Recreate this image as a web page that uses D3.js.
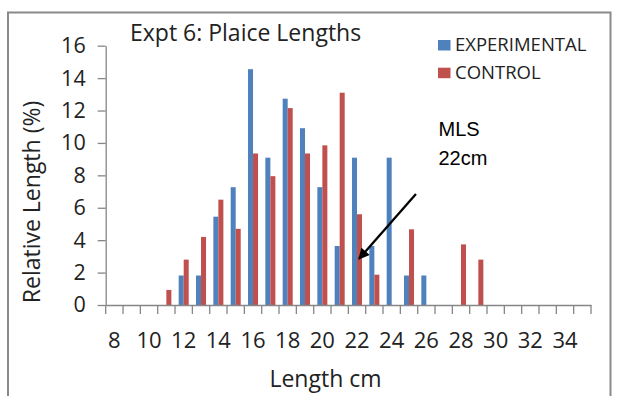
<!DOCTYPE html>
<html>
<head>
<meta charset="utf-8">
<script src="https://cdn.jsdelivr.net/npm/d3@7"></script>
<style>
  html, body { margin: 0; padding: 0; background: #fff; }
  svg { display: block; }
</style>
</head>
<body>
<svg id="chart" width="622" height="396"></svg>
<script>
// Length classes (cm) on the category axis
const lengths = d3.range(8, 36);
// Percentage of fish in each length class
const experimental = [0,0,0,0,1.82,1.82,5.45,7.27,14.55,9.09,12.73,10.91,7.27,3.64,9.09,3.64,9.09,1.82,1.82,0,0,0,0,0,0,0,0,0];
const control      = [0,0,0,0.93,2.8,4.2,6.5,4.7,9.35,7.95,12.15,9.35,9.85,13.1,5.6,1.87,0,4.67,0,0,3.74,2.8,0,0,0,0,0,0];
const seriesNames = ["EXPERIMENTAL", "CONTROL"];
const seriesColors = ["#4F81BD", "#C0504D"];
const yTicks = [0, 2, 4, 6, 8, 10, 12, 14, 16];
const xLabels = d3.range(8, 35, 2);
// Minimum landing size annotation
const mls = { label: ["MLS", "22cm"], size: 22, pct: 2.85, fromLen: 25.4, fromPct: 6.85, textLen: 26.7, textPct: 10.4 };

const svg = d3.select("#chart");
const plotL = 105.7, plotR = 591, plotT = 45.7, plotB = 305;
const mainFont = "'Open Sans', sans-serif";

// outer frame
svg.append("rect")
  .attr("x", 8).attr("y", 12.5).attr("width", 602.5).attr("height", 400)
  .attr("fill", "none").attr("stroke", "#8a8a8a").attr("stroke-width", 2);

const x = d3.scaleBand().domain(lengths).range([plotL, plotR]).paddingInner(0).paddingOuter(0);
const x1 = d3.scaleBand().domain(seriesNames).range([0, x.bandwidth()]).paddingInner(0).paddingOuter(0.73);
const xl = d3.scaleLinear().domain([7.5, 35.5]).range([plotL, plotR]);
const y = d3.scaleLinear().domain([0, 16]).range([plotB, plotT]);

// bars
const rows = lengths.map((len, i) => ({ len, values: [experimental[i], control[i]] }));
const groups = svg.append("g").selectAll("g").data(rows).join("g")
  .attr("transform", d => `translate(${x(d.len)},0)`);
groups.selectAll("rect")
  .data(d => d.values.map((v, k) => ({ v, k })).filter(e => e.v > 0))
  .join("rect")
  .attr("x", e => x1(seriesNames[e.k]))
  .attr("width", x1.bandwidth())
  .attr("y", e => y(e.v))
  .attr("height", e => y(0) - y(e.v))
  .attr("fill", e => seriesColors[e.k]);

// y axis
const yAxis = svg.append("g").attr("transform", `translate(${plotL},0)`)
  .call(d3.axisLeft(y).tickValues(yTicks).tickSize(8).tickPadding(12).tickSizeOuter(0));
yAxis.select(".domain").attr("stroke", "#868686").attr("stroke-width", 1.3);
yAxis.selectAll(".tick line").attr("stroke", "#868686").attr("stroke-width", 1.3);
yAxis.selectAll("text").attr("font-family", mainFont).attr("font-size", 21.5).attr("fill", "#222");

// x axis: labels every other class, tick marks on class boundaries
const xAxis = svg.append("g").attr("transform", `translate(0,${plotB})`)
  .call(d3.axisBottom(x).tickValues(xLabels).tickSize(0).tickPadding(27).tickSizeOuter(0));
xAxis.select(".domain").attr("stroke", "#868686").attr("stroke-width", 1.3);
xAxis.selectAll("text").attr("font-family", mainFont).attr("font-size", 22).attr("fill", "#222");
svg.append("g").selectAll("line")
  .data(lengths.map(l => x(l)).concat([x(lengths[lengths.length - 1]) + x.step()]))
  .join("line")
  .attr("x1", d => d).attr("x2", d => d)
  .attr("y1", plotB).attr("y2", plotB + 9)
  .attr("stroke", "#868686").attr("stroke-width", 1.3);

// titles
svg.append("text").attr("x", 130).attr("y", 41)
  .attr("font-family", mainFont).attr("font-size", 23).attr("fill", "#222")
  .text("Expt 6: Plaice Lengths");
svg.append("text").attr("x", 325.5).attr("y", 387)
  .attr("text-anchor", "middle")
  .attr("font-family", mainFont).attr("font-size", 23).attr("fill", "#222")
  .text("Length cm");
svg.append("text")
  .attr("transform", `translate(39.5,202) rotate(-90)`)
  .attr("text-anchor", "middle")
  .attr("font-family", mainFont).attr("font-size", 23).attr("fill", "#222")
  .text("Relative Length (%)");

// legend
const legend = svg.append("g").selectAll("g").data(seriesNames).join("g")
  .attr("transform", (d, i) => `translate(438,${40 + i * 27.7})`);
legend.append("rect").attr("width", 12.5).attr("height", 10.5)
  .attr("fill", (d, i) => seriesColors[i]);
legend.append("text").attr("x", 17).attr("y", 11.3)
  .attr("font-family", mainFont).attr("font-size", 18.5).attr("fill", "#222")
  .text(d => d);

// MLS annotation
const defs = svg.append("defs");
defs.append("marker").attr("id", "arrowhead")
  .attr("viewBox", "0 0 10 10").attr("refX", 9).attr("refY", 5)
  .attr("markerWidth", 5.2).attr("markerHeight", 4.8).attr("orient", "auto")
  .attr("markerUnits", "strokeWidth")
  .append("path").attr("d", "M0,0 L10,5 L0,10 z").attr("fill", "#000");
svg.append("line")
  .attr("x1", xl(mls.fromLen)).attr("y1", y(mls.fromPct))
  .attr("x2", xl(mls.size) + 2).attr("y2", y(mls.pct))
  .attr("stroke", "#000").attr("stroke-width", 2.3)
  .attr("marker-end", "url(#arrowhead)");
svg.append("text")
  .attr("font-family", "'Liberation Sans', Arial, sans-serif").attr("font-size", 20).attr("fill", "#000")
  .selectAll("tspan").data(mls.label).join("tspan")
  .attr("x", xl(mls.textLen)).attr("y", (d, i) => y(mls.textPct) + i * 28.5)
  .text(d => d);
</script>
</body>
</html>
